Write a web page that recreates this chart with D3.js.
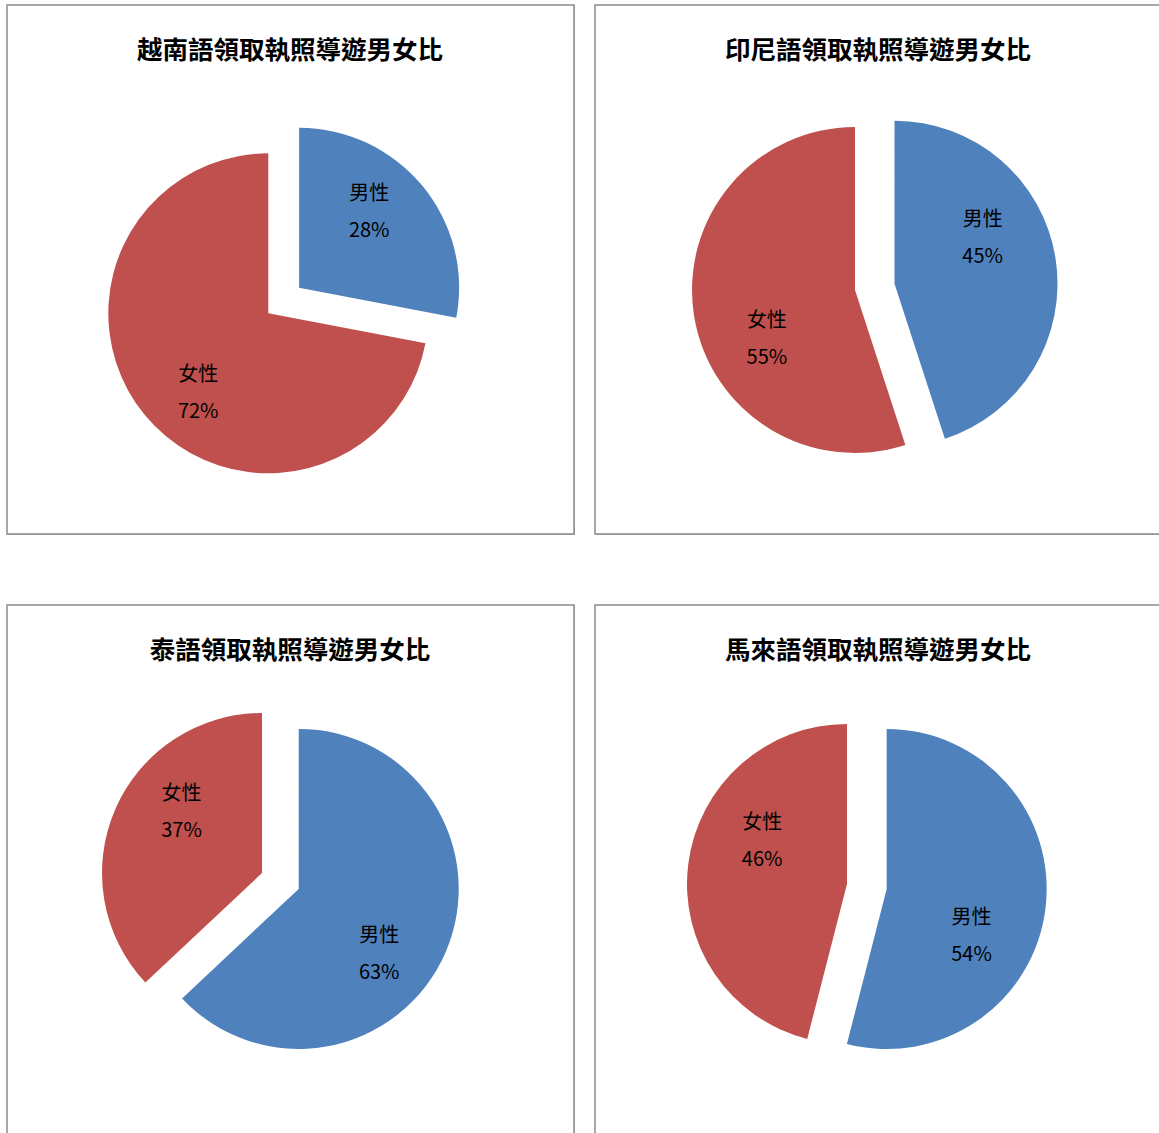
<!DOCTYPE html>
<html>
<head>
<meta charset="utf-8">
<script src="https://cdn.jsdelivr.net/npm/d3@7"></script>
<style>
  html, body { margin: 0; padding: 0; background: #fff; }
  svg { display: block; }
</style>
</head>
<body>
<svg id="chart" width="1159" height="1133"></svg>
<script>
// ---- data ----
const titles = ["越南語領取執照導遊男女比", "印尼語領取執照導遊男女比", "泰語領取執照導遊男女比", "馬來語領取執照導遊男女比"];
const categories = ["男性", "女性"];
const malePct = [28, 45, 63, 54];
const femalePct = [72, 55, 37, 46];

// ---- layout (not data) ----
const colors = { "男性": "#4F81BD", "女性": "#C0504D" };
const panels = [
  { x: 7, y: 5, cx: 268.3, cy: 313.3, r: 160, labAdj: -8.5, labDist: 105 },
  { x: 595, y: 5, cx: 855, cy: 290, r: 163, labAdj: -19.2, labDist: 100 },
  { x: 7, y: 605, cx: 262, cy: 873, r: 160, labAdj: 14.5, labDist: 102 },
  { x: 595, y: 605, cx: 847, cy: 884, r: 160, labAdj: 20.7, labDist: 96 }
];
const panelW = 567, panelH = 529;
const explode = 40;

const svg = d3.select("#chart");
const font = "'Noto Sans CJK TC', 'Noto Sans CJK SC', sans-serif";

const pie = d3.pie().sort(null).value(d => d.value);
const rad = a => a * Math.PI / 180;

titles.forEach((title, i) => {
  const p = panels[i];
  const g = svg.append("g");

  // panel frame (with slight shadow)
  g.append("rect")
    .attr("x", p.x + 0.5).attr("y", p.y + 0.5)
    .attr("width", panelW).attr("height", panelH)
    .attr("fill", "none").attr("stroke", "#b4b4b4").attr("stroke-width", 1);
  g.append("rect")
    .attr("x", p.x).attr("y", p.y)
    .attr("width", panelW).attr("height", panelH)
    .attr("fill", "#fff").attr("stroke", "#8a8a8a").attr("stroke-width", 1.5);

  g.append("text")
    .attr("x", p.x + panelW / 2 - 0.5)
    .attr("y", p.y + 42)
    .attr("text-anchor", "middle")
    .attr("dominant-baseline", "central")
    .attr("font-family", font)
    .attr("font-weight", "bold")
    .attr("font-size", "25.5px")
    .attr("fill", "#000")
    .text(title);

  const data = [
    { cat: categories[0], value: malePct[i] },
    { cat: categories[1], value: femalePct[i] }
  ];
  const arcs = pie(data);
  const arc = d3.arc().innerRadius(0).outerRadius(p.r);

  arcs.forEach(a => {
    const mid = (a.startAngle + a.endAngle) / 2;
    const off = a.data.cat === "男性" ? explode : 0;
    const ox = p.cx + off * Math.sin(mid);
    const oy = p.cy - off * Math.cos(mid);
    const sg = g.append("g").attr("transform", `translate(${ox},${oy})`);
    sg.append("path")
      .attr("d", arc(a))
      .attr("fill", colors[a.data.cat]);

    const la = mid + rad(p.labAdj);
    const lx = p.labDist * Math.sin(la);
    const ly = -p.labDist * Math.cos(la);
    const t = sg.append("text")
      .attr("text-anchor", "middle")
      .attr("font-family", font)
      .attr("font-size", "20px")
      .attr("fill", "#000");
    t.append("tspan").attr("x", lx).attr("y", ly - 18.5)
      .attr("dominant-baseline", "central").text(a.data.cat);
    t.append("tspan").attr("x", lx).attr("y", ly + 18.5)
      .attr("dominant-baseline", "central").text(a.data.value + "%");
  });
});
</script>
</body>
</html>
